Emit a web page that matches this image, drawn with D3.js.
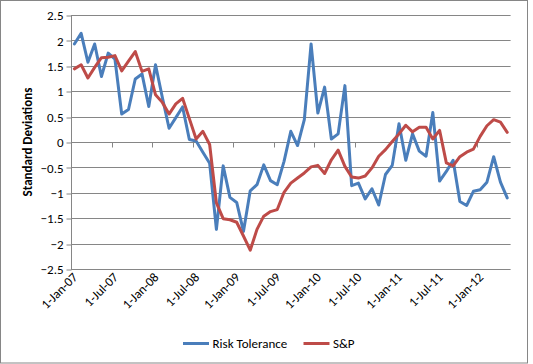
<!DOCTYPE html>
<html>
<head>
<meta charset="utf-8">
<script src="https://cdn.jsdelivr.net/npm/d3@7"></script>
<style>
  html, body { margin: 0; padding: 0; background: #fff; }
  svg { display: block; font-family: Carlito, Lato, "Open Sans", sans-serif; }
</style>
</head>
<body>
<svg id="chart" width="533" height="364"></svg>
<script>
// Monthly categories, Jan 2007 .. May 2012
const categories = [
  "2007-01","2007-02","2007-03","2007-04","2007-05","2007-06","2007-07","2007-08","2007-09","2007-10","2007-11","2007-12",
  "2008-01","2008-02","2008-03","2008-04","2008-05","2008-06","2008-07","2008-08","2008-09","2008-10","2008-11","2008-12",
  "2009-01","2009-02","2009-03","2009-04","2009-05","2009-06","2009-07","2009-08","2009-09","2009-10","2009-11","2009-12",
  "2010-01","2010-02","2010-03","2010-04","2010-05","2010-06","2010-07","2010-08","2010-09","2010-10","2010-11","2010-12",
  "2011-01","2011-02","2011-03","2011-04","2011-05","2011-06","2011-07","2011-08","2011-09","2011-10","2011-11","2011-12",
  "2012-01","2012-02","2012-03","2012-04","2012-05"
];

const riskTolerance = [
  1.93, 2.14, 1.57, 1.93, 1.29, 1.75, 1.63, 0.55, 0.64, 1.24,
  1.34, 0.70, 1.52, 0.88, 0.27, 0.48, 0.69, 0.05, 0.02, -0.20,
  -0.42, -1.72, -0.47, -1.09, -1.19, -1.76, -0.96, -0.84, -0.45, -0.76,
  -0.84, -0.38, 0.21, -0.07, 0.44, 1.93, 0.57, 1.08, 0.06, 0.16,
  1.11, -0.86, -0.81, -1.12, -0.92, -1.24, -0.64, -0.46, 0.36, -0.36,
  0.16, -0.18, -0.28, 0.58, -0.77, -0.58, -0.36, -1.17, -1.25, -0.97,
  -0.94, -0.79, -0.29, -0.79, -1.10
];

const sp = [
  1.44, 1.52, 1.26, 1.47, 1.66, 1.67, 1.70, 1.40, 1.59, 1.78,
  1.39, 1.44, 0.93, 0.78, 0.55, 0.75, 0.86, 0.46, 0.06, 0.21,
  -0.05, -1.20, -1.51, -1.53, -1.58, -1.85, -2.13, -1.72, -1.46, -1.37,
  -1.33, -0.99, -0.81, -0.71, -0.61, -0.49, -0.46, -0.62, -0.35, -0.16,
  -0.48, -0.69, -0.71, -0.67, -0.51, -0.28, -0.15, 0.01, 0.16, 0.33,
  0.20, 0.29, 0.29, 0.06, 0.23, -0.41, -0.47, -0.29, -0.20, -0.14,
  0.11, 0.32, 0.44, 0.39, 0.19
];

const tickLabels = ["1-Jan-07","1-Jul-07","1-Jan-08","1-Jul-08","1-Jan-09","1-Jul-09",
                    "1-Jan-10","1-Jul-10","1-Jan-11","1-Jul-11","1-Jan-12"];
const yTicks = [2.5, 2, 1.5, 1, 0.5, 0, -0.5, -1, -1.5, -2, -2.5];

const seriesNames = ["Risk Tolerance", "S&P"];
const seriesColors = ["#4a7ebb", "#be4b48"];

(function () {
const svg = d3.select("#chart");
const W = 533, H = 364;
const pLeft = 71, pRight = 510.6, pTop = 15, pBottom = 269;
const gridColor = "#868686";
const fs = "13px";

svg.append("rect").attr("x", 0.5).attr("y", 0.5).attr("width", 527).attr("height", H - 1.5)
  .attr("fill", "#fff").attr("stroke", gridColor).attr("stroke-width", 1);

const x = d3.scaleBand().domain(categories).range([pLeft, pRight]).padding(0);
const y = d3.scaleLinear().domain([-2.5, 2.5]).range([pBottom, pTop]);
const cx = c => x(c) + x.bandwidth() / 2;

// gridlines
svg.append("g").selectAll("line").data(yTicks).join("line")
  .attr("x1", pLeft).attr("x2", pRight)
  .attr("y1", d => Math.round(y(d)) + 0.5).attr("y2", d => Math.round(y(d)) + 0.5)
  .attr("stroke", gridColor).attr("stroke-width", 1);

// y axis
const yAxis = d3.axisLeft(y).tickValues(yTicks).tickSize(5).tickPadding(3)
  .tickFormat(d => d3.format("")(d));
const gy = svg.append("g").attr("transform", `translate(${pLeft + 0.5},0.5)`).call(yAxis);
gy.select(".domain").attr("stroke", gridColor).attr("d", `M0,${Math.round(y(2.5))}V${Math.round(y(-2.5))}`);
gy.selectAll(".tick line").attr("stroke", gridColor).attr("transform", d => `translate(0,${Math.round(y(d)) - y(d)})`);
gy.selectAll(".tick text").attr("font-size", fs).attr("fill", "#000")
  .attr("font-family", "Carlito, Lato, sans-serif");

// x axis (crosses at 0), tick marks every 6 categories
const boundaryCats = categories.filter((c, i) => i % 6 === 0 && i > 0);
const y0 = Math.round(y(0)) + 0.5;
svg.append("g").selectAll("line").data(boundaryCats).join("line")
  .attr("x1", d => Math.round(x(d)) + 0.5).attr("x2", d => Math.round(x(d)) + 0.5)
  .attr("y1", y0).attr("y2", y0 + 5)
  .attr("stroke", gridColor).attr("stroke-width", 1);

// x tick labels (low position), rotated
const labelCats = categories.filter((c, i) => i % 6 === 0);
svg.append("g").selectAll("text").data(labelCats).join("text")
  .attr("transform", d => `translate(${cx(d) + 4},${pBottom + 9}) rotate(-45)`)
  .attr("text-anchor", "end")
  .attr("font-size", fs)
  .attr("fill", "#000")
  .text((d, i) => tickLabels[i]);

// y axis title
svg.append("text")
  .attr("transform", `translate(32,${(pTop + pBottom) / 2}) rotate(-90)`)
  .attr("text-anchor", "middle")
  .attr("font-size", fs).attr("font-weight", "bold").attr("fill", "#000")
  .text("Standard Deviations");

// lines
const line = d3.line().x((d, i) => cx(categories[i])).y(d => y(d));
[riskTolerance, sp].forEach((s, k) => {
  svg.append("path").datum(s)
    .attr("d", line)
    .attr("fill", "none")
    .attr("stroke", seriesColors[k])
    .attr("stroke-width", 3)
    .attr("stroke-linejoin", "round")
    .attr("stroke-linecap", "round");
});

// legend
const legendItems = [
  { name: seriesNames[0], color: seriesColors[0], x0: 183 },
  { name: seriesNames[1], color: seriesColors[1], x0: 303.5 }
];
const lg = svg.append("g");
legendItems.forEach(it => {
  lg.append("line").attr("x1", it.x0).attr("x2", it.x0 + 26)
    .attr("y1", 343.5).attr("y2", 343.5)
    .attr("stroke", it.color).attr("stroke-width", 3);
  lg.append("text").attr("x", it.x0 + 29.5).attr("y", 348)
    .attr("font-size", fs).attr("fill", "#000")
    .text(it.name);
});
})();
</script>
</body>
</html>
